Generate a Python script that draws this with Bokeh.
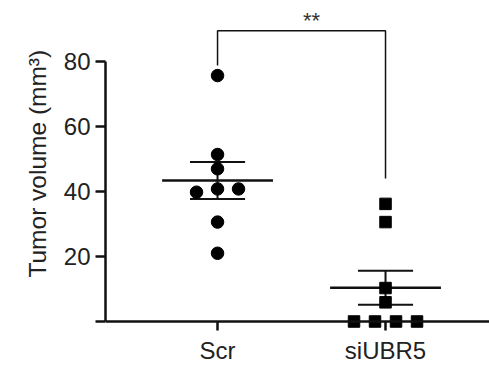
import numpy as np
from bokeh.plotting import figure
from bokeh.layouts import row
from bokeh.models import FixedTicker, Span, ColumnDataSource
from bokeh.core.properties import value
from bokeh.embed import file_html
from bokeh.resources import INLINE

# ---- data ----
categories = ["Scr", "siUBR5"]
scr_values = [75.7, 51.4, 47.0, 39.8, 40.8, 40.8, 30.6, 21.0]
siubr5_values = [36.2, 30.6, 10.3, 5.9, 0.0, 0.0, 0.0, 0.0]
y_ticks = [0, 20, 40, 60, 80]
y_label = "Tumor volume (mm³)"
sig_label = "**"
# annotation levels for the significance bracket
bracket_top = 89.5
bracket_left_end = 78.8
bracket_right_end = 44.0

FONT = "Liberation Sans"
STEP = 0.125       # beeswarm horizontal step (category units)
TOL = 3.0          # values closer than this are spread side by side
MEAN_HALF = 0.33
SEM_HALF = 0.164

W, H = 489, 368
LW = 55            # width of the strip holding the y-axis title
X0, X1 = 0.333, 2.619
Y0, Y1 = -2.77, 98.8


def swarm(vals, center):
    order = np.argsort(vals, kind="stable")
    xs = np.full(len(vals), float(center))
    groups, cur = [], [order[0]]
    for i in order[1:]:
        if abs(vals[i] - vals[cur[-1]]) <= TOL:
            cur.append(i)
        else:
            groups.append(cur)
            cur = [i]
    groups.append(cur)
    for g in groups:
        n = len(g)
        for k, idx in enumerate(g):
            xs[idx] = center + (k - (n - 1) / 2) * STEP
    return xs


# ---- y-axis title strip ----
lab = figure(width=LW, height=H, x_range=(0, LW), y_range=(0, H),
             output_backend="svg", toolbar_location=None,
             min_border=0, x_axis_type=None, y_axis_type=None)
lab.outline_line_color = None
lab.xgrid.grid_line_color = None
lab.ygrid.grid_line_color = None
lab.text(x=[37], y=[H - 182], text=[y_label], angle=np.pi / 2,
         text_font=value(FONT), text_font_size="24.5px", text_color="#222222",
         text_align="center", text_baseline="middle")

# ---- main plot ----
p = figure(width=W - LW, height=H, x_range=(X0, X1), y_range=(Y0, Y1),
           output_backend="svg", toolbar_location=None,
           min_border_left=105 - LW, min_border_right=0, min_border_top=0, min_border_bottom=38)
p.outline_line_color = None
p.xgrid.grid_line_color = None
p.ygrid.grid_line_color = None
p.background_fill_color = "white"
p.border_fill_color = "white"

# y axis
p.yaxis.ticker = FixedTicker(ticks=y_ticks)
p.yaxis.bounds = (y_ticks[0], y_ticks[-1])
p.yaxis.major_label_overrides = {0: ""}
p.yaxis.axis_line_width = 2.5
p.yaxis.axis_line_color = "#111111"
p.yaxis.major_tick_line_width = 2.5
p.yaxis.major_tick_line_color = "#111111"
p.yaxis.major_tick_out = 10
p.yaxis.major_tick_in = 0
p.yaxis.minor_tick_line_color = None
p.yaxis.major_label_text_font = FONT
p.yaxis.major_label_text_font_size = "24px"
p.yaxis.major_label_text_color = "#222222"
p.yaxis.major_label_standoff = 5

# x axis
p.xaxis.ticker = FixedTicker(ticks=[1, 2])
p.xaxis.major_label_overrides = {1: categories[0], 2: categories[1]}
p.xaxis.axis_line_color = None
p.xaxis.major_tick_line_width = 2.5
p.xaxis.major_tick_line_color = "#111111"
p.xaxis.major_tick_in = 9
p.xaxis.major_tick_out = 0
p.xaxis.minor_tick_line_color = None
p.xaxis.major_label_text_font = FONT
p.xaxis.major_label_text_font_size = "24px"
p.xaxis.major_label_text_color = "#222222"
p.xaxis.major_label_standoff = 6

p.add_layout(Span(location=0, dimension="width", line_color="#111111", line_width=2.5))

groups = [scr_values, siubr5_values]
markers = ["circle", "square"]
for gi, vals in enumerate(groups):
    vals = np.array(vals, dtype=float)
    c = gi + 1
    m = vals.mean()
    sem = vals.std(ddof=1) / np.sqrt(len(vals))
    # mean line
    p.segment(x0=[c - MEAN_HALF], x1=[c + MEAN_HALF], y0=[m], y1=[m],
              line_color="#111111", line_width=2.5)
    # SEM caps and stem
    p.segment(x0=[c - SEM_HALF, c - SEM_HALF, c], x1=[c + SEM_HALF, c + SEM_HALF, c],
              y0=[m + sem, m - sem, m - sem], y1=[m + sem, m - sem, m + sem],
              line_color="#111111", line_width=2)
    xs = swarm(vals, c)
    src = ColumnDataSource(dict(x=xs, y=vals))
    p.scatter("x", "y", source=src, marker=markers[gi], size=12.5 if gi == 0 else 11.5,
              fill_color="black", line_color="black")

# significance bracket
p.line(x=[1, 1, 2, 2], y=[bracket_left_end, bracket_top, bracket_top, bracket_right_end],
       line_color="#111111", line_width=1.5)
p.text(x=[1.56], y=[bracket_top + 3.0], text=[sig_label], text_font=value(FONT),
       text_font_size="22px", text_align="center", text_baseline="alphabetic",
       text_color="#333333")

layout = row(lab, p, spacing=0)
open("out.html", "w").write(file_html(layout, INLINE))
